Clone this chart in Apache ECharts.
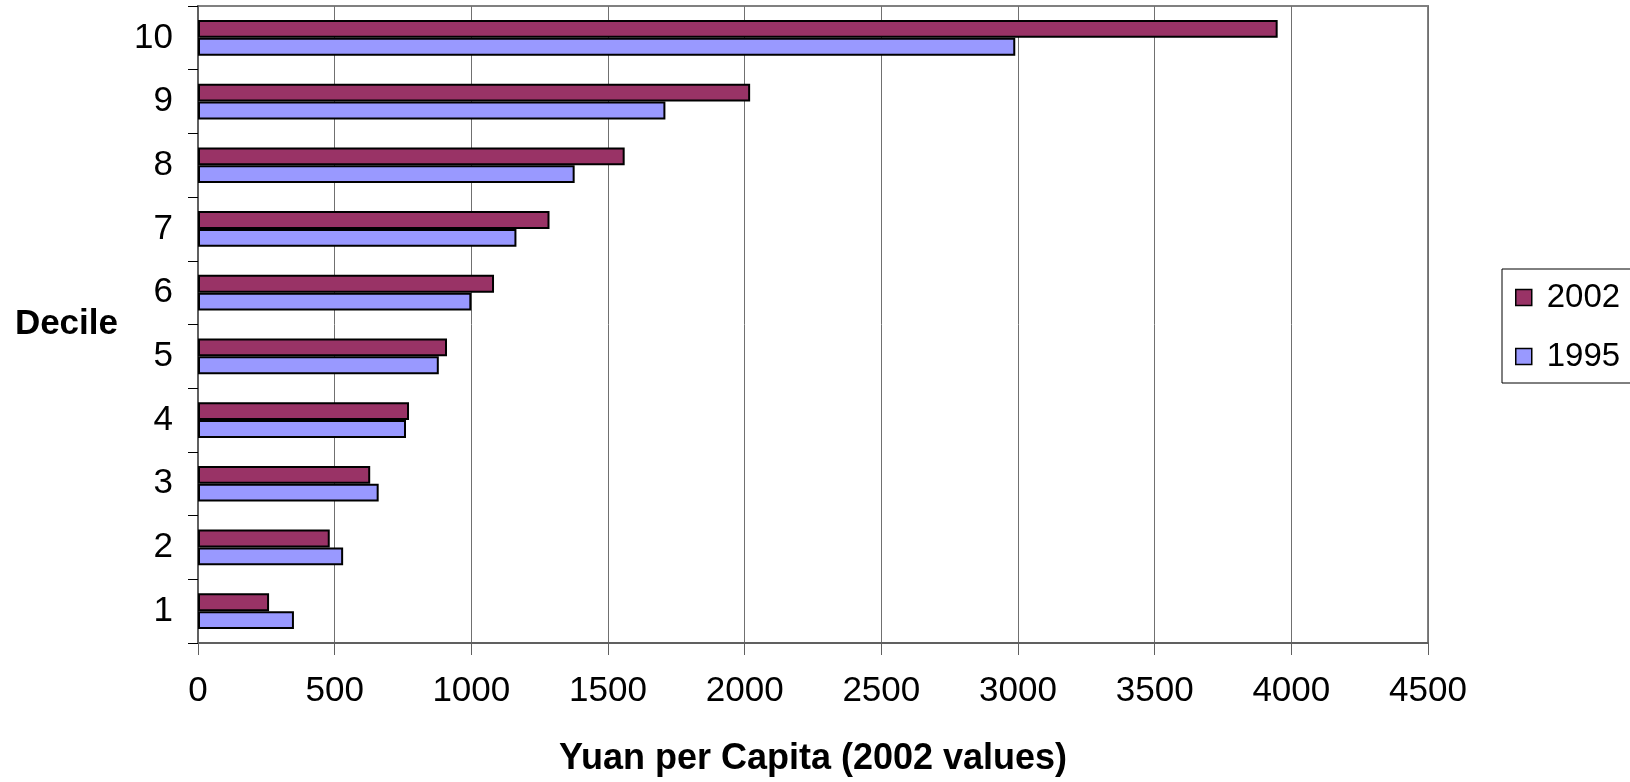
<!DOCTYPE html>
<html>
<head>
<meta charset="utf-8">
<script src="https://cdn.jsdelivr.net/npm/echarts@6/dist/echarts.min.js"></script>
<style>
html,body{margin:0;padding:0;background:#fff;}
#chart{width:1630px;height:782px;}
</style>
</head>
<body>
<div id="chart"></div>
<script>
const deciles = ['1','2','3','4','5','6','7','8','9','10'];
const values2002 = [260, 482, 630, 772, 911, 1083, 1286, 1561, 2020, 3950];
const values1995 = [351, 531, 661, 761, 881, 1000, 1165, 1378, 1710, 2990];
const xTicks = [0, 500, 1000, 1500, 2000, 2500, 3000, 3500, 4000, 4500];

const chart = echarts.init(document.getElementById('chart'));
const FONT = 'Liberation Sans, Arial, sans-serif';
chart.setOption({
  backgroundColor: '#ffffff',
  animation: false,
  textStyle: { fontFamily: FONT },
  grid: {
    left: 198, right: 202, top: 6, bottom: 137,
    show: true, borderColor: '#808080', borderWidth: 2, backgroundColor: '#ffffff'
  },
  legend: {
    orient: 'vertical',
    left: 1502, top: 269,
    data: ['2002', '1995'],
    icon: 'rect',
    itemWidth: 16, itemHeight: 16,
    itemGap: 26,
    padding: [12, 12, 10, 13],
    borderColor: '#000000', borderWidth: 1,
    textStyle: { fontSize: 33, color: '#000', fontFamily: FONT, padding: [0, 0, 0, 10] },
    itemStyle: { borderColor: '#000', borderWidth: 1.5 }
  },
  xAxis: {
    type: 'value',
    min: xTicks[0], max: xTicks[xTicks.length - 1], interval: 500,
    name: 'Yuan per Capita (2002 values)',
    nameLocation: 'middle',
    nameGap: 98,
    nameTextStyle: { fontSize: 36, fontWeight: 'bold', color: '#000', fontFamily: FONT },
    axisLine: { show: true, lineStyle: { color: '#606060', width: 2 } },
    axisTick: { show: true, length: 12, lineStyle: { color: '#606060', width: 1 } },
    axisLabel: { fontSize: 35, color: '#000', margin: 31, fontFamily: FONT, formatter: v => String(v) },
    splitLine: { show: true, lineStyle: { color: '#707070', width: 1 } }
  },
  yAxis: {
    type: 'category',
    data: deciles,
    name: 'Decile',
    nameLocation: 'middle',
    nameRotate: 0,
    nameGap: 80,
    nameTextStyle: { fontSize: 35, fontWeight: 'bold', color: '#000', fontFamily: FONT, align: 'right' },
    axisLine: { show: true, lineStyle: { color: '#606060', width: 2 } },
    axisTick: { show: true, length: 10, lineStyle: { color: '#000', width: 1 } },
    axisLabel: { fontSize: 35, color: '#000', margin: 25, fontFamily: FONT },
    splitLine: { show: false }
  },
  series: [
    {
      name: '2002', type: 'bar', data: values2002,
      barGap: '0%', barCategoryGap: '44%',
      itemStyle: { color: '#993366', borderColor: '#000', borderWidth: 2 }
    },
    {
      name: '1995', type: 'bar', data: values1995,
      barGap: '0%', barCategoryGap: '44%',
      itemStyle: { color: '#9999FF', borderColor: '#000', borderWidth: 2 }
    }
  ]
});
</script>
</body>
</html>
